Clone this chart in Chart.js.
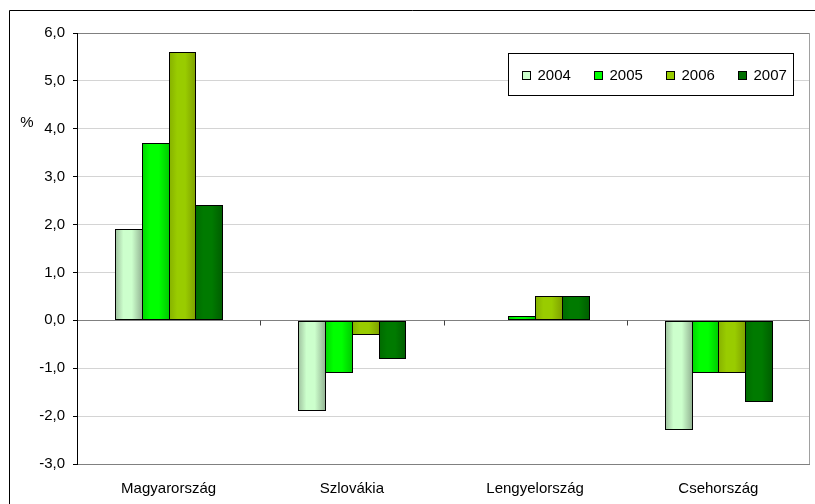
<!DOCTYPE html>
<html>
<head>
<meta charset="utf-8">
<script src="https://cdn.jsdelivr.net/npm/chart.js@4"></script>
<style>
  html, body { margin: 0; padding: 0; background: #fff; }
  #wrap { width: 815px; height: 504px; position: relative; }
</style>
</head>
<body>
<div id="wrap"><canvas id="c" width="815" height="504"></canvas></div>
<script>
// Categories, years and the yearly values (%)
const categories = ['Magyarország', 'Szlovákia', 'Lengyelország', 'Csehország'];
const years = ['2004', '2005', '2006', '2007'];
const v2004 = [1.9, -1.9, 0.0, -2.3];
const v2005 = [3.7, -1.1, 0.1, -1.1];
const v2006 = [5.6, -0.3, 0.5, -1.1];
const v2007 = [2.4, -0.8, 0.5, -1.7];
const yTicks = [-3, -2, -1, 0, 1, 2, 3, 4, 5, 6];
const unitLabel = '%';

// Shading for each series: [edge, centre, far edge] plus the legend swatch colour
const shades = [
  { edge: '#9dbf9d', mid: '#ccffcc', far: '#8fae8f', swatch: '#ccffcc' },
  { edge: '#00d400', mid: '#00ff00', far: '#00c800', swatch: '#00ff00' },
  { edge: '#86b000', mid: '#99cc00', far: '#7e9f00', swatch: '#99cc00' },
  { edge: '#006a00', mid: '#007a00', far: '#005c00', swatch: '#006e00' }
];

const FONT = "'Liberation Sans', Arial, sans-serif";
const fmt = v => v.toFixed(1).replace('.', ',');

const series = [v2004, v2005, v2006, v2007];

const framePlugin = {
  id: 'frame',
  beforeDraw(chart) {
    const ctx = chart.ctx;
    ctx.save();
    ctx.fillStyle = '#fff';
    ctx.fillRect(0, 0, chart.width, chart.height);
    // outer chart border
    ctx.strokeStyle = '#000';
    ctx.lineWidth = 1;
    ctx.beginPath();
    ctx.moveTo(9.5, chart.height + 5);
    ctx.lineTo(9.5, 10.5);
    ctx.lineTo(chart.width + 5, 10.5);
    ctx.stroke();
    ctx.restore();
  },
  beforeDatasetsDraw(chart) {
    const ctx = chart.ctx;
    chart.data.datasets.forEach((ds, i) => {
      const meta = chart.getDatasetMeta(i);
      const s = shades[i];
      meta.data.forEach(el => {
        // snap bar edges to whole pixels so the outlines stay crisp;
        // neighbouring bars share one outline column
        const l = Math.round(el.x - el.width / 2);
        const r = Math.round(el.x + el.width / 2);
        el.x = (l + r + 1) / 2;
        el.width = r - l + 1;
        el.y = Math.round(el.y);
        el.base = Math.round(el.base);
        const g = ctx.createLinearGradient(l, 0, r + 1, 0);
        g.addColorStop(0, s.edge);
        g.addColorStop(0.3, s.mid);
        g.addColorStop(0.6, s.mid);
        g.addColorStop(1, s.far);
        const o = Object.create(el.options);
        Object.defineProperty(o, 'backgroundColor', { value: g, enumerable: true });
        el.options = o;
      });
    });
  },
  afterDraw(chart) {
    const ctx = chart.ctx;
    const a = chart.chartArea;
    const x = chart.scales.x, y = chart.scales.y;
    ctx.save();
    // plot area right edge
    ctx.strokeStyle = '#a0a0a0';
    ctx.lineWidth = 1;
    ctx.beginPath();
    ctx.moveTo(Math.round(a.right) - 0.5, a.top);
    ctx.lineTo(Math.round(a.right) - 0.5, a.bottom);
    ctx.stroke();
    // category separators on the zero line
    const y0 = Math.round(y.getPixelForValue(0)) + 0.5;
    ctx.strokeStyle = '#404040';
    ctx.beginPath();
    for (let i = 1; i < categories.length; i++) {
      const px = Math.round((x.getPixelForValue(i - 1) + x.getPixelForValue(i)) / 2) + 0.5;
      ctx.moveTo(px, y0);
      ctx.lineTo(px, y0 + 5);
    }
    ctx.stroke();
    // unit label
    ctx.fillStyle = '#000';
    ctx.font = '15px ' + FONT;
    ctx.textAlign = 'center';
    ctx.textBaseline = 'middle';
    ctx.fillText(unitLabel, 27, 123);
    // legend
    const lx = 508.5, ly = 53.5, lw = 285, lh = 42;
    ctx.fillStyle = '#fff';
    ctx.fillRect(lx, ly, lw, lh);
    ctx.strokeStyle = '#000';
    ctx.strokeRect(lx, ly, lw, lh);
    ctx.textAlign = 'left';
    ctx.textBaseline = 'middle';
    const cy = ly + lh / 2;
    chart.data.datasets.forEach((ds, i) => {
      const sx = Math.round(lx + 13 + i * 72) + 0.5;
      ctx.fillStyle = shades[i].swatch;
      ctx.fillRect(sx, Math.round(cy - 4) + 0.5, 8, 8);
      ctx.strokeStyle = '#000';
      ctx.strokeRect(sx, Math.round(cy - 4) + 0.5, 8, 8);
      ctx.fillStyle = '#000';
      ctx.fillText(ds.label, sx + 15, cy + 1);
    });
    ctx.restore();
  }
};

new Chart(document.getElementById('c'), {
  type: 'bar',
  data: {
    labels: categories,
    datasets: years.map((yr, i) => ({
      label: yr,
      data: series[i],
      backgroundColor: shades[i].mid,
      borderColor: '#000',
      borderWidth: 1,
      borderSkipped: false,
      categoryPercentage: 0.585,
      barPercentage: 1
    }))
  },
  options: {
    responsive: false,
    animation: false,
    devicePixelRatio: 1,
    layout: { padding: { left: 0, top: 33, right: 5, bottom: 0 } },
    plugins: { legend: { display: false }, tooltip: { enabled: false } },
    scales: {
      x: {
        grid: { display: false, drawTicks: false, tickLength: 0 },
        border: { display: false },
        ticks: { color: '#000', font: { family: FONT, size: 15 }, padding: 16, maxRotation: 0 },
        afterFit(s) { s.height = 40; }
      },
      y: {
        min: -3,
        max: 6,
        afterBuildTicks(s) { s.ticks = yTicks.map(v => ({ value: v })); },
        grid: {
          color: c => (c.tick && (c.tick.value === 0 || c.tick.value === 6 || c.tick.value === -3)) ? '#808080' : '#d4d4d4',
          tickColor: '#000',
          tickLength: 4
        },
        border: { display: true, color: '#000', width: 1 },
        ticks: {
          color: '#000',
          font: { family: FONT, size: 15 },
          padding: 8,
          callback: v => fmt(v)
        },
        afterFit(s) { s.width = 77; }
      }
    }
  },
  plugins: [framePlugin]
});
</script>
</body>
</html>
